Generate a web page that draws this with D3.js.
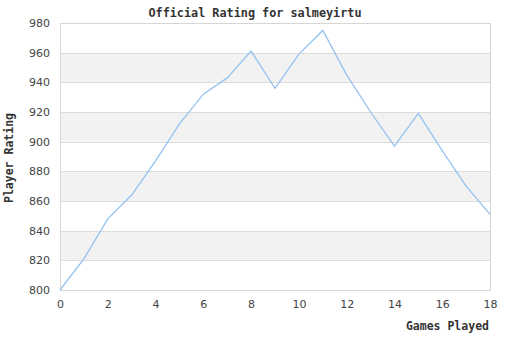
<!DOCTYPE html>
<html>
<head>
<meta charset="utf-8">
<script src="https://cdn.jsdelivr.net/npm/d3@7"></script>
<style>
  body { margin: 0; background: #fff; }
  svg { display: block; }
</style>
</head>
<body>
<svg id="chart"></svg>
<script>
// games played vs official rating
const games = [0, 1, 2, 3, 4, 5, 6, 7, 8, 9, 10, 11, 12, 13, 14, 15, 16, 17, 18];
const ratings = [800, 821, 848, 864, 887, 912, 932, 943, 961, 936, 959, 975, 945, 920, 897, 919, 894, 870, 851];
const yTicks = [800, 820, 840, 860, 880, 900, 920, 940, 960, 980];
const xTicks = [0, 2, 4, 6, 8, 10, 12, 14, 16, 18];

const width = 510, height = 340;
const margin = { top: 23, right: 20, bottom: 50, left: 60 };

const svg = d3.select('#chart')
  .attr('width', width)
  .attr('height', height);

const x = d3.scaleLinear()
  .domain([0, 18])
  .range([margin.left, width - margin.right]);

const y = d3.scaleLinear()
  .domain([800, 980])
  .range([height - margin.bottom, margin.top]);

// alternating bands
const bands = d3.pairs(yTicks);
svg.selectAll('.band')
  .data(bands)
  .enter().append('rect')
  .attr('class', 'band')
  .attr('x', margin.left)
  .attr('y', d => y(d[1]))
  .attr('width', x(18) - x(0))
  .attr('height', d => y(d[0]) - y(d[1]))
  .attr('fill', (d, i) => i % 2 === 1 ? '#f2f2f2' : '#fff');

// grid lines
svg.selectAll('.grid')
  .data(yTicks)
  .enter().append('line')
  .attr('x1', margin.left)
  .attr('x2', width - margin.right)
  .attr('y1', d => Math.round(y(d)) + 0.5)
  .attr('y2', d => Math.round(y(d)) + 0.5)
  .attr('stroke', '#dcdcdc');

// frame
svg.append('rect')
  .attr('x', margin.left + 0.5)
  .attr('y', Math.round(y(980)) + 0.5)
  .attr('width', x(18) - x(0))
  .attr('height', y(800) - y(980))
  .attr('fill', 'none')
  .attr('stroke', '#d6d6d6');

const yAxis = svg.append('g')
  .attr('transform', `translate(${margin.left},0)`)
  .call(d3.axisLeft(y).tickValues(yTicks).tickSize(0).tickPadding(10));
yAxis.select('.domain').remove();

const xAxis = svg.append('g')
  .attr('transform', `translate(0,${height - margin.bottom})`)
  .call(d3.axisBottom(x).tickValues(xTicks).tickSize(0).tickPadding(10));
xAxis.select('.domain').remove();

svg.selectAll('.tick text')
  .attr('font-family', 'DejaVu Sans, sans-serif')
  .attr('font-size', 11)
  .attr('fill', '#444');

const line = d3.line()
  .x((d, i) => x(games[i]))
  .y(d => y(d));

svg.append('path')
  .datum(ratings)
  .attr('d', line)
  .attr('fill', 'none')
  .attr('stroke', '#94c3f0')
  .attr('stroke-width', 1.3);

const labelFont = 'DejaVu Sans Mono, monospace';

svg.append('text')
  .attr('x', 255)
  .attr('y', 17)
  .attr('text-anchor', 'middle')
  .attr('font-family', labelFont)
  .attr('font-weight', 'bold')
  .attr('font-size', 11.8)
  .attr('fill', '#333')
  .text('Official Rating for salmeyirtu');

svg.append('text')
  .attr('x', 489)
  .attr('y', 330)
  .attr('text-anchor', 'end')
  .attr('font-family', labelFont)
  .attr('font-weight', 'bold')
  .attr('font-size', 11.5)
  .attr('fill', '#333')
  .text('Games Played');

svg.append('text')
  .attr('transform', 'translate(13,158) rotate(-90)')
  .attr('text-anchor', 'middle')
  .attr('font-family', labelFont)
  .attr('font-weight', 'bold')
  .attr('font-size', 11.5)
  .attr('fill', '#333')
  .text('Player Rating');
</script>
</body>
</html>
